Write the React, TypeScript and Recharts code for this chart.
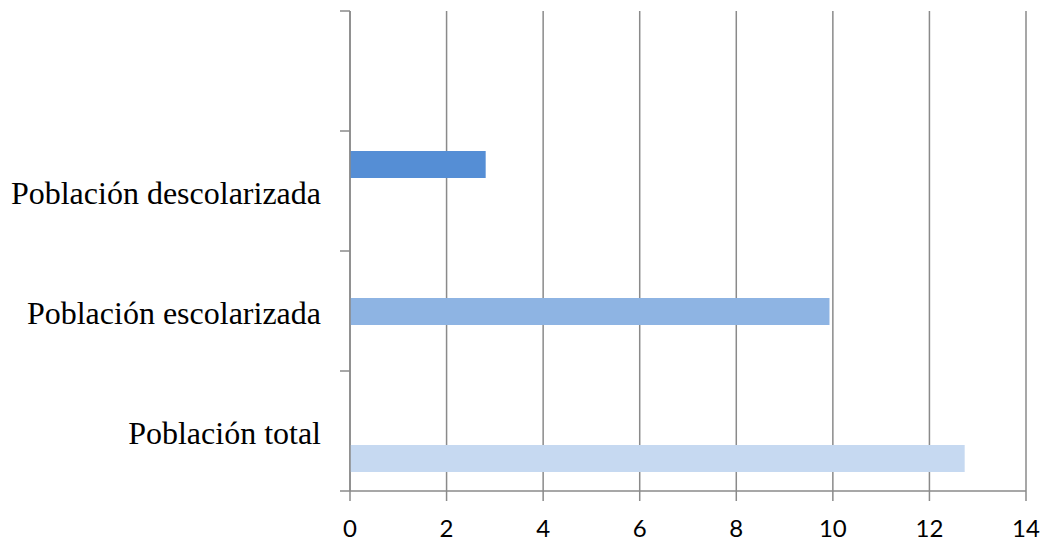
import { BarChart, Bar, XAxis, YAxis, CartesianGrid } from 'recharts';

const categories = ['', 'Población descolarizada', 'Población escolarizada', 'Población total'];
const descolarizada = [null, 2.81, null, null];
const escolarizada = [null, null, 9.93, null];
const total = [null, null, null, 12.73];
const xTicks = [0, 2, 4, 6, 8, 10, 12, 14];

const data = categories.map((name, i) => ({
  name,
  descolarizada: descolarizada[i],
  escolarizada: escolarizada[i],
  total: total[i],
}));

const W = 1048;
const H = 541;
const X_AXIS_H = 30;
const MARGIN = { top: 11, right: 22, bottom: 50 - X_AXIS_H, left: 0 };
const Y_AXIS_W = 350;
const AXIS_COLOR = '#8a8a8a';
const BAND = (H - MARGIN.top - MARGIN.bottom - X_AXIS_H) / categories.length;

const CategoryTick = ({ y, payload, index }: any) => {
  const axisX = MARGIN.left + Y_AXIS_W;
  return (
    <g>
      <line x1={axisX - 10} x2={axisX} y1={y - BAND / 2} y2={y - BAND / 2} stroke={AXIS_COLOR} strokeWidth={1.5} />
      {index === categories.length - 1 && (
        <line x1={axisX - 10} x2={axisX} y1={y + BAND / 2} y2={y + BAND / 2} stroke={AXIS_COLOR} strokeWidth={1.5} />
      )}
      <text
        x={axisX - 29}
        y={y + 13}
        textAnchor="end"
        fontFamily="'Liberation Serif', 'Times New Roman', serif"
        fontSize={32}
        fill="#000"
      >
        {payload.value}
      </text>
    </g>
  );
};

export default function App() {
  return (
    <div style={{ position: 'absolute', left: 0, top: 0, background: '#fff' }}>
      <BarChart
        width={W}
        height={H}
        data={data}
        layout="vertical"
        margin={MARGIN}
        barSize={27}
        barGap={0}
      >
        <CartesianGrid horizontal={false} stroke={AXIS_COLOR} strokeWidth={1.5} />
        <XAxis
          type="number"
          domain={[0, 14]}
          ticks={xTicks}
          interval={0}
          height={X_AXIS_H}
          tickSize={10}
          tickMargin={19}
          axisLine={{ stroke: AXIS_COLOR, strokeWidth: 1.5 }}
          tickLine={{ stroke: AXIS_COLOR, strokeWidth: 1.5 }}
          tick={{ fontFamily: 'Lato, sans-serif', fontSize: 24, fill: '#000' }}
        />
        <YAxis
          type="category"
          dataKey="name"
          width={Y_AXIS_W}
          interval={0}
          tickLine={false}
          axisLine={{ stroke: AXIS_COLOR, strokeWidth: 1.5 }}
          tick={<CategoryTick />}
        />
        <Bar dataKey="descolarizada" fill="#558ED5" isAnimationActive={false} />
        <Bar dataKey="escolarizada" fill="#8EB4E3" isAnimationActive={false} />
        <Bar dataKey="total" fill="#C6D9F1" isAnimationActive={false} />
      </BarChart>
    </div>
  );
}
